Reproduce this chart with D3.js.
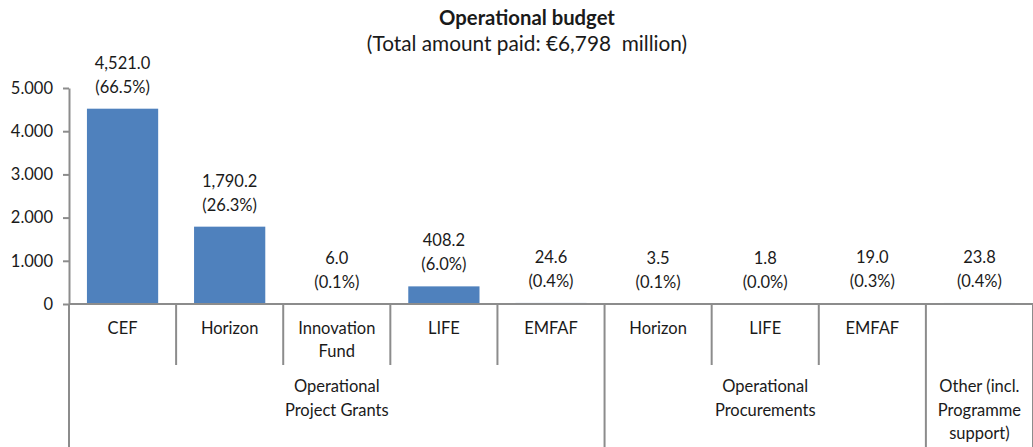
<!DOCTYPE html>
<html><head><meta charset="utf-8">
<script src="https://cdn.jsdelivr.net/npm/d3@7"></script>
<style>body{margin:0;background:#fff}svg{display:block}text{font-family:Lato,"Open Sans",sans-serif;fill:#1a1a1a;white-space:pre}</style>
</head><body><svg id="c" width="1033" height="447"></svg>
<script>
const categories = ["CEF","Horizon","Innovation\nFund","LIFE","EMFAF","Horizon","LIFE","EMFAF",""];
const values = [4521.0,1790.2,6.0,408.2,24.6,3.5,1.8,19.0,23.8];
const valueLabels = ["4,521.0","1,790.2","6.0","408.2","24.6","3.5","1.8","19.0","23.8"];
const shareLabels = ["(66.5%)","(26.3%)","(0.1%)","(6.0%)","(0.4%)","(0.1%)","(0.0%)","(0.3%)","(0.4%)"];
const groups = [
  {name:"Operational\nProject Grants", start:0, end:4},
  {name:"Operational\nProcurements", start:5, end:7},
  {name:"Other (incl.\nProgramme\nsupport)", start:8, end:8}
];
const yTicks = [0,1000,2000,3000,4000,5000];
const title = "Operational budget";
const subtitle = "(Total amount paid: €6,798  million)";

const svg = d3.select("#c");
const left = 69, right = 1033, zeroY = 304, topY = 88;
const ids = d3.range(categories.length);
const x = d3.scaleBand().domain(ids).range([left,right]).paddingInner(0.335).paddingOuter(0.1675);
const xb = d3.scaleBand().domain(ids).range([left,right]);
const y = d3.scaleLinear().domain([0,5000]).range([zeroY,topY]);
const loc = d3.formatLocale({decimal:",",thousands:".",grouping:[3],currency:["","€"]});
const fmt = loc.format(",.0f");
const axisColor = "#8c8c8c";
const fs = "16.5px";

// title
svg.append("text").attr("x",527).attr("y",25).attr("text-anchor","middle").style("font-weight","bold").style("font-size","20.3px").text(title);
svg.append("text").attr("x",527).attr("y",51).attr("text-anchor","middle").style("font-size","20.8px").text(subtitle);

// y axis
const yAxis = svg.append("g").attr("transform",`translate(${left},0)`)
  .call(d3.axisLeft(y).tickValues(yTicks).tickFormat(fmt).tickSize(6).tickPadding(10).tickSizeOuter(0));
yAxis.select(".domain").attr("stroke",axisColor).attr("stroke-width",2);
yAxis.selectAll(".tick line").attr("stroke",axisColor).attr("stroke-width",2);
yAxis.selectAll(".tick text").style("font-size",fs).style("font-family","Lato,sans-serif").attr("fill","#1a1a1a");

// bars
svg.append("g").selectAll("rect").data(ids).join("rect")
  .attr("x",i=>x(i)).attr("width",x.bandwidth())
  .attr("y",i=>y(values[i])).attr("height",i=>zeroY-y(values[i]))
  .attr("fill","#4f81bd");

// x axis line
svg.append("line").attr("x1",left).attr("x2",right).attr("y1",zeroY).attr("y2",zeroY).attr("stroke",axisColor).attr("stroke-width",2);

// separators
const groupBounds = new Set([0]);
groups.forEach(g=>{groupBounds.add(g.start); groupBounds.add(g.end+1);});
d3.range(categories.length+1).forEach(i=>{
  const xx = i<categories.length ? xb(i) : right;
  const isGroup = groupBounds.has(i);
  svg.append("line").attr("x1",xx).attr("x2",xx).attr("y1",zeroY).attr("y2",isGroup?447:365)
    .attr("stroke",axisColor).attr("stroke-width",2);
});

// category labels
ids.forEach(i=>{
  const lines = categories[i].split("\n");
  const t = svg.append("text").attr("text-anchor","middle").style("font-size",fs);
  lines.forEach((l,k)=>t.append("tspan").attr("x",xb(i)+xb.bandwidth()/2).attr("y",334+k*23).text(l));
});
// group labels
groups.forEach(g=>{
  const cx = (xb(g.start)+xb(g.end)+xb.bandwidth())/2;
  const t = svg.append("text").attr("text-anchor","middle").style("font-size",fs);
  g.name.split("\n").forEach((l,k)=>t.append("tspan").attr("x",cx).attr("y",392+k*23.5).text(l));
});

// data labels
ids.forEach(i=>{
  const cx = x(i)+x.bandwidth()/2;
  const top = y(values[i]);
  svg.append("text").attr("x",cx).attr("y",top-40).attr("text-anchor","middle").style("font-size",fs).text(valueLabels[i]);
  svg.append("text").attr("x",cx).attr("y",top-16).attr("text-anchor","middle").style("font-size",fs).text(shareLabels[i]);
});
</script></body></html>
